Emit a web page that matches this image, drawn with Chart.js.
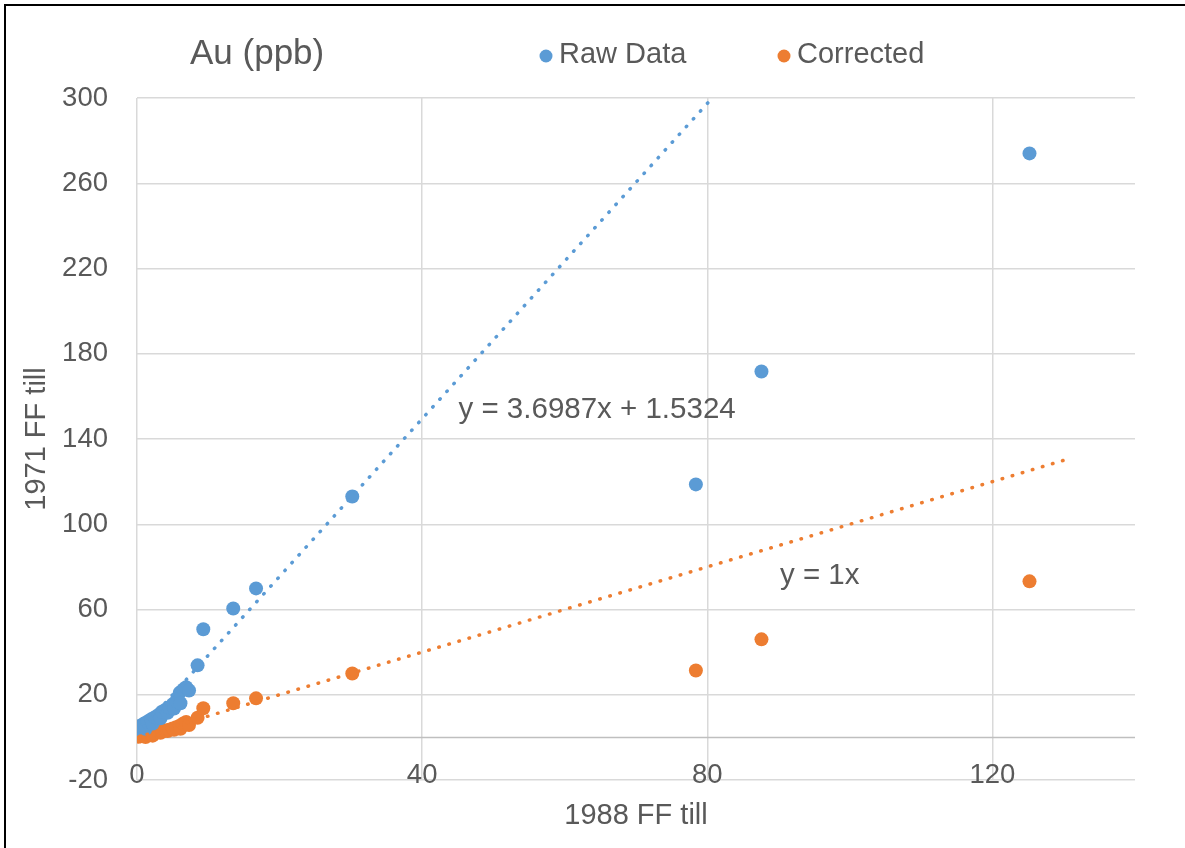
<!DOCTYPE html>
<html>
<head>
<meta charset="utf-8">
<script src="https://cdn.jsdelivr.net/npm/chart.js@4.4.1/dist/chart.umd.min.js"></script>
<style>
  html, body { margin: 0; padding: 0; background: #fff; }
  #wrap { position: relative; width: 1185px; height: 848px; overflow: hidden; }
  #frame { position: absolute; left: 4px; top: 4px; right: 0; bottom: 0; border-left: 2px solid #000; border-top: 2px solid #000; }
  canvas { position: absolute; left: 0; top: 0; }
</style>
</head>
<body>
<div id="wrap">
  <div id="frame"></div>
  <canvas id="chart" width="1185" height="848"></canvas>
</div>
<script>
// values (1988 till on x, 1971 till on y)
const tillX = [0.2, 0.5, 1.0, 1.2, 1.5, 2.0, 2.2, 2.5, 3.0, 3.3, 3.5, 4.0, 4.3, 4.5, 5.0, 5.2, 5.5, 6.0, 6.1, 6.5, 6.9, 7.3, 8.5, 9.3, 13.5, 16.7, 30.2, 78.4, 87.6, 125.2];
const rawY = [4.5, 5.5, 6.5, 4.0, 7.5, 8.5, 6.5, 9.5, 10.5, 9.0, 12, 13, 11.5, 14, 15.5, 13.5, 17, 21, 16, 22.5, 23.5, 22, 33.8, 50.7, 60.5, 69.9, 113, 118.7, 171.7, 274];
const correctedY = [0.3, 0.5, 1.0, 0.2, 1.3, 1.7, 0.8, 2.0, 2.5, 2.2, 2.8, 3.2, 3.0, 3.6, 4.2, 3.6, 4.8, 5.5, 4.0, 6.5, 7.2, 5.8, 9.2, 13.7, 16.0, 18.3, 30.0, 31.4, 46.0, 73.2];

// trendline end points
const trendX = [0, 130];
const rawTrendY = [1.5324, 482.36];
const correctedTrendY = [0, 130];

const xTicks = [0, 40, 80, 120];
const yTicks = [-20, 20, 60, 100, 140, 180, 220, 260, 300];
const seriesNames = ['Raw Data', 'Corrected'];
const trendLabels = ['y = 3.6987x + 1.5324', 'y = 1x'];

const BLUE = '#5B9BD5';
const ORANGE = '#ED7D31';
const TEXT = '#595959';
const FONT = '"Liberation Sans", Arial, sans-serif';

function toPoints(xs, ys) {
  return xs.map((x, i) => ({ x: x, y: ys[i] }));
}

function trendSet(ys, color) {
  return {
    type: 'line',
    data: toPoints(trendX, ys),
    borderColor: color,
    borderWidth: 3.5,
    borderDash: [0.5, 10],
    borderCapStyle: 'round',
    pointRadius: 0,
    fill: false,
    order: 0
  };
}

const overlay = {
  id: 'overlay',
  beforeDatasetsDraw(chart) {
    // horizontal axis line at y = 0
    const { ctx, chartArea, scales } = chart;
    const y0 = scales.y.getPixelForValue(0);
    ctx.save();
    ctx.strokeStyle = '#BFBFBF';
    ctx.lineWidth = 1.5;
    ctx.beginPath();
    ctx.moveTo(chartArea.left, y0);
    ctx.lineTo(chartArea.right, y0);
    ctx.stroke();
    ctx.restore();
  },
  afterDraw(chart) {
    const { ctx, scales } = chart;
    ctx.save();
    ctx.fillStyle = TEXT;
    ctx.textBaseline = 'middle';
    ctx.textAlign = 'left';

    ctx.font = '35px ' + FONT;
    ctx.fillText('Au (ppb)', 190, 54);

    // legend
    ctx.font = '29px ' + FONT;
    const items = [[546, BLUE], [784, ORANGE]];
    items.forEach((it, i) => {
      ctx.fillStyle = it[1];
      ctx.beginPath();
      ctx.arc(it[0], 56, 6.5, 0, Math.PI * 2);
      ctx.fill();
      ctx.fillStyle = TEXT;
      ctx.fillText(seriesNames[i], it[0] + 13, 55);
    });

    // trendline equations
    ctx.font = '29.5px ' + FONT;
    ctx.fillText(trendLabels[0], scales.x.getPixelForValue(45.1), scales.y.getPixelForValue(153.9));
    ctx.fillText(trendLabels[1], scales.x.getPixelForValue(90.2), scales.y.getPixelForValue(75.8));
    ctx.restore();
  }
};

new Chart(document.getElementById('chart'), {
  type: 'scatter',
  data: {
    datasets: [
      {
        label: seriesNames[0],
        data: toPoints(tillX, rawY),
        backgroundColor: BLUE,
        borderWidth: 0,
        pointRadius: 7,
        pointHoverRadius: 7,
        order: 1
      },
      {
        label: seriesNames[1],
        data: toPoints(tillX, correctedY),
        backgroundColor: ORANGE,
        borderWidth: 0,
        pointRadius: 7,
        pointHoverRadius: 7,
        order: 1
      },
      trendSet(rawTrendY, BLUE),
      trendSet(correctedTrendY, ORANGE)
    ]
  },
  options: {
    responsive: false,
    animation: false,
    devicePixelRatio: 1,
    layout: { padding: { left: 6, top: 98, right: 50, bottom: 0 } },
    plugins: {
      legend: { display: false },
      title: { display: false },
      tooltip: { enabled: false }
    },
    scales: {
      x: {
        type: 'linear',
        min: 0,
        max: 140,
        afterBuildTicks: (scale) => { scale.ticks = xTicks.map(v => ({ value: v })); },
        afterFit: (scale) => { scale.height = 68; },
        grid: { color: '#D9D9D9', lineWidth: 1.5, drawTicks: false },
        border: { display: false },
        ticks: { color: TEXT, font: { family: FONT, size: 27.5 }, mirror: true, padding: -12, maxRotation: 0 },
        title: { display: true, text: '1988 FF till', color: TEXT, font: { family: FONT, size: 29 }, padding: { top: 0, bottom: 15 } }
      },
      y: {
        type: 'linear',
        min: -20,
        max: 300,
        afterBuildTicks: (scale) => { scale.ticks = yTicks.map(v => ({ value: v })); },
        afterFit: (scale) => { scale.width = 131; },
        grid: { color: '#D9D9D9', lineWidth: 1.5, drawTicks: false },
        border: { display: false },
        ticks: { color: TEXT, font: { family: FONT, size: 27.5 }, padding: 29 },
        title: { display: true, text: '1971 FF till', color: TEXT, font: { family: FONT, size: 29 }, padding: { top: 14, bottom: 0 } }
      }
    }
  },
  plugins: [overlay]
});
</script>
</body>
</html>
